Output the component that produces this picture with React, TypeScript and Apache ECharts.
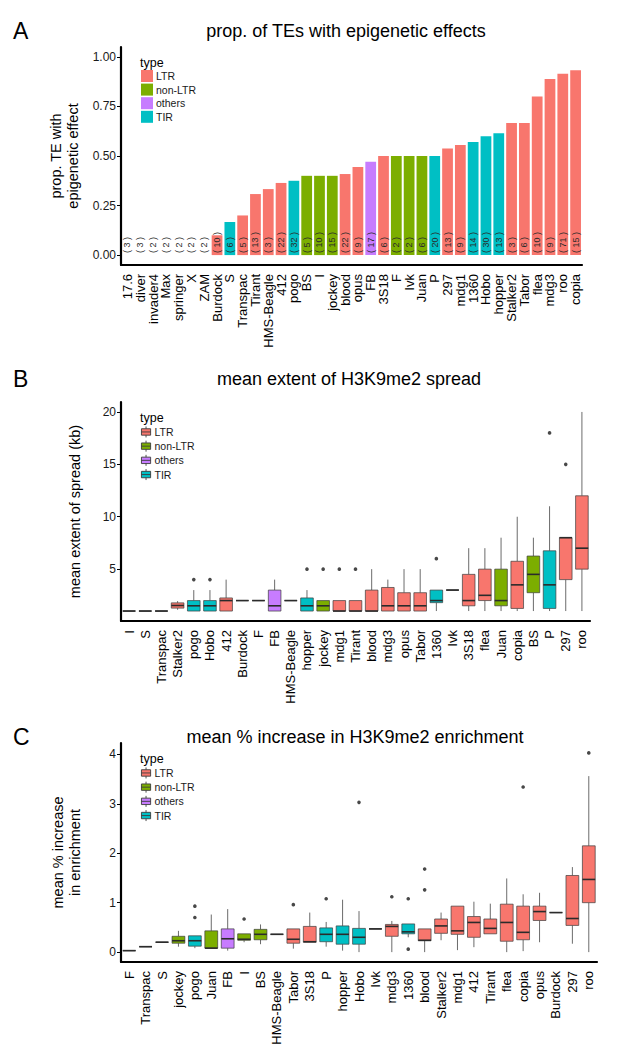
import React, { useEffect, useRef } from "react";
import * as echarts from "echarts";

const FONT = "'Liberation Sans', Arial, Helvetica, sans-serif";
const TYPES = ["LTR", "non-LTR", "others", "TIR"];
const TYPE_COLORS: Record<string, string> = {
  LTR: "#F8766D",
  "non-LTR": "#7CAE00",
  others: "#C77CFF",
  TIR: "#00BFC4",
};

// ---------- Panel A: proportion of TEs with epigenetic effect ----------
const propCategories = [
  "17.6", "diver", "invader4", "Max", "springer", "X", "ZAM", "Burdock", "S", "Transpac",
  "Tirant", "HMS-Beagle", "412", "pogo", "BS", "I", "jockey", "blood", "opus", "FB",
  "3S18", "F", "Ivk", "Juan", "P", "297", "mdg1", "1360", "Hobo", "hopper",
  "Stalker2", "Tabor", "flea", "mdg3", "roo", "copia",
];
const propValues = [
  0, 0, 0, 0, 0, 0, 0, 0.1, 0.167, 0.2,
  0.308, 0.333, 0.364, 0.375, 0.4, 0.4, 0.4, 0.409, 0.444, 0.471,
  0.5, 0.5, 0.5, 0.5, 0.5, 0.538, 0.556, 0.571, 0.6, 0.615,
  0.667, 0.667, 0.8, 0.889, 0.915, 0.933,
];
const propTypes = [
  "LTR", "LTR", "LTR", "LTR", "LTR", "non-LTR", "LTR", "LTR", "TIR", "LTR",
  "LTR", "LTR", "LTR", "TIR", "non-LTR", "non-LTR", "non-LTR", "LTR", "LTR", "others",
  "LTR", "non-LTR", "non-LTR", "non-LTR", "TIR", "LTR", "LTR", "TIR", "TIR", "TIR",
  "LTR", "LTR", "LTR", "LTR", "LTR", "LTR",
];
const propCounts = [
  3, 3, 2, 2, 2, 2, 2, 10, 6, 5,
  13, 3, 22, 32, 5, 10, 15, 22, 9, 17,
  6, 2, 2, 6, 20, 13, 9, 14, 30, 13,
  3, 6, 10, 9, 71, 15,
];
const propTicks = [0, 0.25, 0.5, 0.75, 1];

// ---------- Panel B: mean extent of H3K9me2 spread ----------
const spreadCategories = [
  "I", "S", "Transpac", "Stalker2", "pogo", "Hobo", "412", "Burdock", "F", "FB",
  "HMS-Beagle", "hopper", "jockey", "mdg1", "Tirant", "blood", "mdg3", "opus", "Tabor", "1360",
  "Ivk", "3S18", "flea", "Juan", "copia", "BS", "P", "297", "roo",
];
const spreadTypes = [
  "non-LTR", "TIR", "LTR", "LTR", "TIR", "TIR", "LTR", "LTR", "non-LTR", "others",
  "LTR", "TIR", "non-LTR", "LTR", "LTR", "LTR", "LTR", "LTR", "LTR", "TIR",
  "non-LTR", "LTR", "LTR", "non-LTR", "LTR", "non-LTR", "TIR", "LTR", "LTR",
];
// [min, Q1, median, Q3, max]
const spreadStats = [
  [1, 1, 1, 1, 1],
  [1, 1, 1, 1, 1],
  [1, 1, 1, 1, 1],
  [1.12, 1.28, 1.53, 1.78, 1.95],
  [1, 1, 1.5, 2, 3],
  [1, 1, 1.5, 2, 3],
  [1, 1, 2, 2.25, 4],
  [2, 2, 2, 2, 2],
  [2, 2, 2, 2, 2],
  [1, 1, 1.5, 3, 4],
  [2, 2, 2, 2, 2],
  [1, 1, 1.5, 2.25, 3],
  [1, 1, 1.5, 2, 2],
  [1, 1, 1, 2, 2],
  [1, 1, 1, 2, 2],
  [1, 1, 1, 3, 5],
  [1, 1, 1.5, 3.25, 4],
  [1, 1, 1.5, 2.75, 5],
  [1, 1, 1.5, 2.75, 5],
  [1, 1.8, 2, 3, 3],
  [3, 3, 3, 3, 3],
  [1, 1.5, 2, 4.5, 7],
  [1, 2, 2.5, 5, 7],
  [1, 1.5, 2, 5, 8],
  [1, 1.25, 3.5, 5.75, 10],
  [1, 2.75, 4.5, 6.25, 8],
  [1, 1.25, 3.5, 6.75, 11],
  [1, 4, 8, 8, 8],
  [1, 5, 7, 12, 20],
];
const spreadOutliers: [string, number][] = [
  ["pogo", 4], ["Hobo", 4], ["hopper", 5], ["jockey", 5], ["mdg1", 5],
  ["Tirant", 5], ["1360", 6], ["P", 18], ["297", 15],
];
const spreadTicks = [5, 10, 15, 20];

// ---------- Panel C: mean % increase in H3K9me2 enrichment ----------
const enrichCategories = [
  "F", "Transpac", "S", "jockey", "pogo", "Juan", "FB", "I", "BS", "HMS-Beagle",
  "Tabor", "3S18", "P", "hopper", "Hobo", "Ivk", "mdg3", "1360", "blood", "Stalker2",
  "mdg1", "412", "Tirant", "flea", "copia", "opus", "Burdock", "297", "roo",
];
const enrichTypes = [
  "non-LTR", "LTR", "TIR", "non-LTR", "TIR", "non-LTR", "others", "non-LTR", "non-LTR", "LTR",
  "LTR", "LTR", "TIR", "TIR", "TIR", "non-LTR", "LTR", "TIR", "LTR", "LTR",
  "LTR", "LTR", "LTR", "LTR", "LTR", "LTR", "LTR", "LTR", "LTR",
];
const enrichStats = [
  [0.03, 0.03, 0.03, 0.03, 0.03],
  [0.11, 0.11, 0.11, 0.11, 0.11],
  [0.2, 0.2, 0.2, 0.2, 0.2],
  [0.11, 0.18, 0.23, 0.32, 0.43],
  [0.08, 0.12, 0.23, 0.33, 0.33],
  [0.08, 0.08, 0.08, 0.43, 0.76],
  [0.03, 0.08, 0.27, 0.47, 0.87],
  [0.2, 0.24, 0.26, 0.37, 0.37],
  [0.16, 0.25, 0.36, 0.46, 0.56],
  [0.36, 0.36, 0.36, 0.36, 0.36],
  [0.07, 0.18, 0.26, 0.47, 0.47],
  [0.2, 0.2, 0.21, 0.52, 0.8],
  [0.11, 0.21, 0.36, 0.49, 0.61],
  [0.03, 0.16, 0.36, 0.53, 1.06],
  [0, 0.16, 0.3, 0.48, 0.83],
  [0.47, 0.47, 0.47, 0.47, 0.47],
  [0, 0.32, 0.52, 0.56, 0.63],
  [0.3, 0.37, 0.41, 0.57, 0.57],
  [0, 0.23, 0.24, 0.47, 0.47],
  [0.24, 0.38, 0.53, 0.67, 0.8],
  [0.04, 0.36, 0.43, 0.93, 0.93],
  [0.1, 0.3, 0.6, 0.72, 1.02],
  [0.37, 0.37, 0.48, 0.67, 0.98],
  [0, 0.22, 0.6, 0.97, 1.49],
  [0.02, 0.25, 0.4, 0.93, 1.17],
  [0.2, 0.64, 0.82, 0.93, 1.2],
  [0.8, 0.8, 0.8, 0.8, 0.8],
  [0.17, 0.54, 0.68, 1.55, 1.72],
  [0, 1.0, 1.47, 2.15, 3.56],
];
const enrichOutliers: [string, number][] = [
  ["pogo", 0.93], ["pogo", 0.7], ["I", 0.67], ["Tabor", 0.96], ["P", 1.08],
  ["Hobo", 3.03], ["mdg3", 1.12], ["1360", 1.08], ["1360", 0.06], ["blood", 1.68],
  ["blood", 1.26], ["copia", 3.34], ["roo", 4.03],
];
const enrichTicks = [0, 1, 2, 3, 4];

const BOX_ICON = "path://M6,0L6,2.5M1,2.5L11,2.5L11,9.5L1,9.5ZM1,6L11,6M6,9.5L6,12";

function boxRender(color: string) {
  return (params: any, api: any) => {
    const xi = api.value(0);
    const mn = api.value(1), q1 = api.value(2), md = api.value(3), q3 = api.value(4), mx = api.value(5);
    const band = api.size([1, 0])[0];
    const w = band * 0.78;
    const pMin = api.coord([xi, mn]);
    const pQ1 = api.coord([xi, q1]);
    const pMd = api.coord([xi, md]);
    const pQ3 = api.coord([xi, q3]);
    const pMax = api.coord([xi, mx]);
    const cx = pMd[0];
    const children: any[] = [];
    if (mx > q3) {
      children.push({ type: "line", shape: { x1: cx, y1: pQ3[1], x2: cx, y2: pMax[1] }, style: { stroke: "#5a5a5a", lineWidth: 0.9 } });
    }
    if (mn < q1) {
      children.push({ type: "line", shape: { x1: cx, y1: pQ1[1], x2: cx, y2: pMin[1] }, style: { stroke: "#5a5a5a", lineWidth: 0.9 } });
    }
    children.push({
      type: "rect",
      shape: { x: cx - w / 2, y: pQ3[1], width: w, height: pQ1[1] - pQ3[1] },
      style: { fill: color, stroke: "#3c3c3c", lineWidth: 0.7 },
    });
    children.push({
      type: "line",
      shape: { x1: cx - w / 2, y1: pMd[1], x2: cx + w / 2, y2: pMd[1] },
      style: { stroke: "#2b2b2b", lineWidth: 1.6 },
    });
    return { type: "group", children };
  };
}

function boxSeries(cats: string[], types: string[], stats: number[][], outliers: [string, number][], idx: number) {
  const out: any[] = [];
  TYPES.forEach((t) => {
    const data: number[][] = [];
    cats.forEach((c, i) => {
      if (types[i] === t) data.push([i, ...stats[i]]);
    });
    out.push({
      name: t,
      type: "custom",
      xAxisIndex: idx,
      yAxisIndex: idx,
      itemStyle: { color: TYPE_COLORS[t] },
      renderItem: boxRender(TYPE_COLORS[t]),
      encode: { x: 0, y: [1, 2, 3, 4, 5] },
      data,
      silent: true,
    });
  });
  out.push({
    name: "outliers" + idx,
    type: "scatter",
    xAxisIndex: idx,
    yAxisIndex: idx,
    symbolSize: 3.6,
    itemStyle: { color: "#1a1a1a" },
    data: outliers.map(([c, v]) => [cats.indexOf(c), v]),
    silent: true,
  });
  return out;
}

function xAxisCfg(idx: number, data: string[]) {
  return {
    type: "category",
    gridIndex: idx,
    data,
    boundaryGap: true,
    axisLine: { onZero: false, lineStyle: { color: "#000", width: 2.2 } },
    axisTick: { show: false },
    axisLabel: { rotate: 90, interval: 0, fontSize: 13, color: "#000", margin: 9, fontFamily: FONT },
    splitLine: { show: false },
  };
}

function yAxisCfg(idx: number, min: number, max: number, ticks: number[], name: string, fmt: (v: number) => string) {
  return {
    type: "value",
    gridIndex: idx,
    min,
    max,
    name,
    nameLocation: "middle",
    nameRotate: 90,
    nameGap: 38,
    nameTextStyle: { fontSize: 14.5, color: "#000", lineHeight: 17, fontFamily: FONT },
    axisLine: { show: true, lineStyle: { color: "#000", width: 2.2 } },
    axisTick: { show: true, length: 4, customValues: ticks, lineStyle: { color: "#000", width: 1 } },
    axisLabel: { customValues: ticks, formatter: fmt, fontSize: 12, color: "#1a1a1a", margin: 5, fontFamily: FONT },
    splitLine: { show: false },
  };
}

function legendCfg(top: number, box: boolean) {
  return {
    show: true,
    orient: "vertical",
    left: 141,
    top,
    data: TYPES,
    icon: box ? BOX_ICON : "rect",
    itemWidth: box ? 11 : 12,
    itemHeight: box ? 11 : 12,
    itemGap: box ? 2.3 : 1.6,
    padding: 0,
    selectedMode: false,
    textStyle: { fontSize: 10.5, color: "#1a1a1a", fontFamily: FONT, padding: [0, 0, 0, -2] },
    itemStyle: box ? { borderColor: "#3c3c3c", borderWidth: 0.9 } : { borderWidth: 0 },
  };
}

export default function App() {
  const ref = useRef<HTMLDivElement>(null);
  useEffect(() => {
    if (!ref.current) return;
    const chart = echarts.init(ref.current, null, { renderer: "svg" });

    const barSeries = TYPES.map((t) => ({
      name: t,
      type: "bar",
      stack: "prop",
      xAxisIndex: 0,
      yAxisIndex: 0,
      barCategoryGap: "16%",
      itemStyle: { color: TYPE_COLORS[t] },
      data: propValues.map((v, i) => (propTypes[i] === t ? v : null)),
      silent: true,
    }));

    const countSeries = {
      name: "counts",
      type: "custom",
      xAxisIndex: 0,
      yAxisIndex: 0,
      z: 5,
      silent: true,
      encode: { x: 0, y: 1 },
      data: propCounts.map((c, i) => [i, 0, c]),
      renderItem: (params: any, api: any) => {
        const p = api.coord([api.value(0), 0]);
        return {
          type: "text",
          x: p[0],
          y: p[1] - 2,
          rotation: Math.PI / 2,
          style: {
            text: "( " + api.value(2) + " )",
            align: "left",
            verticalAlign: "middle",
            fontSize: 9,
            fill: "#2a2a2a",
            fontFamily: FONT,
          },
        };
      },
    };

    const textEl = (text: string, x: number, y: number, size: number, align = "center") => ({
      type: "text",
      x,
      y,
      silent: true,
      style: { text, fontSize: size, fill: "#000", align, verticalAlign: "middle", fontFamily: FONT },
    });

    const option: any = {
      animation: false,
      textStyle: { fontFamily: FONT },
      grid: [
        { left: 121, right: 35, top: 47, bottom: 797 },
        { left: 121, right: 27, top: 402, bottom: 441 },
        { left: 121, right: 20, top: 743, bottom: 100 },
      ],
      xAxis: [
        xAxisCfg(0, propCategories),
        xAxisCfg(1, spreadCategories),
        xAxisCfg(2, enrichCategories),
      ],
      yAxis: [
        yAxisCfg(0, -0.05, 1.05, propTicks, "prop. TE with\nepigenetic effect", (v) => v.toFixed(2)),
        yAxisCfg(1, 0.05, 20.95, spreadTicks, "mean extent of spread (kb)", (v) => String(v)),
        yAxisCfg(2, -0.2, 4.23, enrichTicks, "mean % increase\nin enrichment", (v) => String(v)),
      ],
      legend: [legendCfg(70, false), legendCfg(426, true), legendCfg(767, true)],
      graphic: [
        textEl("A", 13, 31, 23, "left"),
        textEl("prop. of TEs with epigenetic effects", 346, 31, 18),
        textEl("B", 13, 379, 23, "left"),
        textEl("mean extent of H3K9me2 spread", 349, 379, 18),
        textEl("C", 13, 737, 23, "left"),
        textEl("mean % increase in H3K9me2 enrichment", 355, 737, 18),
        textEl("type", 140, 63, 12.5, "left"),
        textEl("type", 140, 418, 12.5, "left"),
        textEl("type", 140, 759, 12.5, "left"),
      ],
      series: [
        ...barSeries,
        countSeries,
        ...boxSeries(spreadCategories, spreadTypes, spreadStats, spreadOutliers, 1),
        ...boxSeries(enrichCategories, enrichTypes, enrichStats, enrichOutliers, 2),
      ],
    };
    chart.setOption(option);
    return () => chart.dispose();
  }, []);

  return (
    <div
      ref={ref}
      style={{ position: "fixed", left: 0, top: 0, width: 617, height: 1062, background: "#fff" }}
    />
  );
}
